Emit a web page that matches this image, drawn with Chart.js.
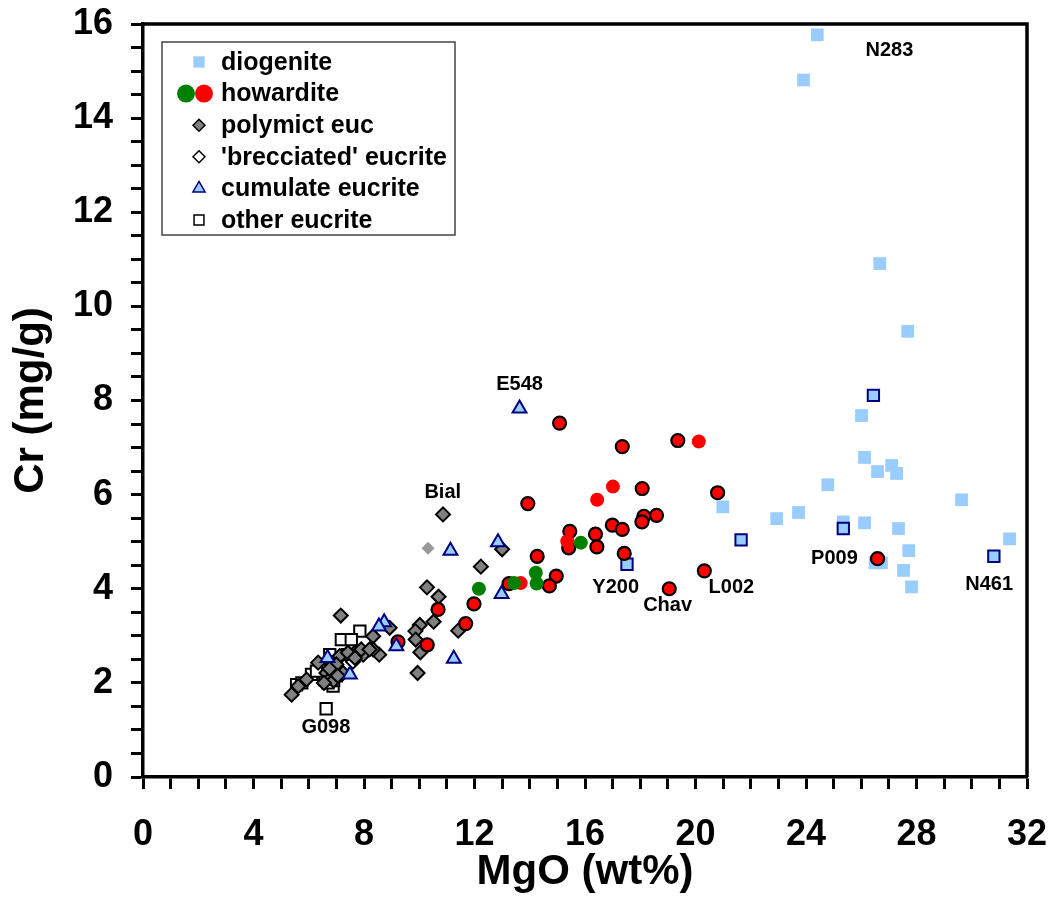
<!DOCTYPE html>
<html>
<head>
<meta charset="utf-8">
<script src="https://cdn.jsdelivr.net/npm/chart.js@4.4.1/dist/chart.umd.min.js"></script>
<style>
  html, body { margin: 0; padding: 0; background: #fff; }
  #wrap { width: 1053px; height: 910px; }
</style>
</head>
<body>
<div id="wrap"><canvas id="crChart" width="1053" height="910"></canvas></div>
<script>
    "use strict";

    // tick labels
    var xTickLabels = ['0', '4', '8', '12', '16', '20', '24', '28', '32'];
    var yTickLabels = ['0', '2', '4', '6', '8', '10', '12', '14', '16'];

    // diogenite
    var diogeniteMgO = [24.41, 23.91, 26.67, 27.68, 26.01, 26.12, 26.59, 27.10, 27.28, 24.79, 29.63, 20.99, 23.73, 22.94, 25.35, 26.12, 27.35, 31.37, 27.72, 26.50, 26.73, 27.53, 27.82];
    var diogeniteCr  = [15.77, 14.81, 10.91, 9.47, 7.68, 6.79, 6.49, 6.62, 6.45, 6.21, 5.89, 5.74, 5.62, 5.49, 5.42, 5.40, 5.28, 5.06, 4.81, 4.55, 4.55, 4.39, 4.04];
    // diogenite, outlined
    var diogOutMgO = [26.44, 25.35, 21.65, 30.80, 17.52];
    var diogOutCr  = [8.11, 5.28, 5.04, 4.69, 4.52];

    // howardite (red, outlined)
    var howRedMgO = [15.08, 17.35, 19.36, 18.07, 20.80, 13.93, 18.13, 18.06, 18.59, 16.99, 17.35, 15.45, 16.38, 15.41, 16.43, 17.42, 14.27, 14.96, 14.71, 19.05, 20.32, 13.25, 11.98, 11.68, 10.68, 10.29, 9.23, 26.59];
    var howRedCr  = [7.52, 7.02, 7.15, 6.13, 6.04, 5.81, 5.54, 5.42, 5.56, 5.35, 5.26, 5.22, 5.16, 4.87, 4.89, 4.75, 4.69, 4.27, 4.06, 4.00, 4.38, 4.11, 3.68, 3.26, 3.56, 2.81, 2.87, 4.64];
    // howardite (red, plain)
    var howRed2MgO = [20.12, 17.01, 16.44, 15.36, 13.67];
    var howRed2Cr  = [7.13, 6.17, 5.89, 5.01, 4.12];
    // howardite (green)
    var howGreenMgO = [15.85, 14.22, 14.25, 12.16, 13.43];
    var howGreenCr  = [4.98, 4.34, 4.11, 4.00, 4.12];

    // polymict eucrite
    var polyMgO = [10.86, 13.00, 12.23, 10.28, 10.70, 10.52, 11.41, 10.02, 9.86, 9.87, 10.04, 9.94, 8.93, 7.16, 8.33, 8.55, 8.33, 7.97, 7.67, 5.38, 5.62, 5.92, 6.34, 7.12, 7.42, 7.90, 8.20, 7.24, 7.67, 7.00, 6.64, 6.80, 6.90, 7.05, 6.75, 6.55];
    var polyCr  = [5.58, 4.84, 4.47, 4.03, 3.83, 3.30, 3.11, 3.23, 3.10, 2.92, 2.65, 2.21, 3.17, 3.43, 2.99, 2.60, 2.71, 2.60, 2.64, 1.75, 1.93, 2.07, 2.43, 2.57, 2.64, 2.71, 2.71, 2.21, 2.53, 2.39, 2.21, 2.10, 2.05, 2.15, 2.30, 2.00];
    var polyLightMgO = [10.32];
    var polyLightCr  = [4.86];

    // 'brecciated' eucrite
    var breccMgO = [7.30, 7.60, 6.95];
    var breccCr  = [2.35, 2.45, 2.25];

    // cumulate eucrite
    var cumMgO = [13.63, 11.13, 12.85, 12.98, 11.25, 8.73, 8.54, 9.17, 6.68, 7.49];
    var cumCr  = [7.83, 4.81, 4.99, 3.89, 2.51, 3.29, 3.20, 2.78, 2.53, 2.18];

    // other eucrite
    var otherMgO = [7.85, 7.18, 7.54, 6.76, 6.46, 6.10, 5.56, 6.88, 6.58, 6.28, 6.63, 6.80, 7.00, 7.10, 6.90, 7.40, 5.75, 6.70];
    var otherCr  = [3.10, 2.92, 2.92, 2.60, 2.39, 2.18, 1.96, 1.93, 2.07, 2.25, 1.45, 2.30, 2.15, 2.45, 2.05, 2.60, 2.00, 2.00];

    // sample labels
    var sampleNames = ['N283', 'E548', 'Bial', 'Y200', 'Chav', 'L002', 'P009', 'N461', 'G098'];
    var sampleMgO   = [27.02, 13.63, 10.85, 17.11, 18.99, 21.30, 25.03, 30.63, 6.62];
    var sampleCr    = [15.43, 8.35, 6.05, 4.03, 3.64, 4.03, 4.64, 4.09, 1.05];

    var FONT = "'Liberation Sans', Arial, sans-serif";

    function pts(xs, ys) {
        return xs.map(function (x, i) { return {x: x, y: ys[i]}; });
    }

    function ds(label, xs, ys, style, order) {
        return Object.assign({
            label: label,
            data: pts(xs, ys),
            order: order,
            pointHoverRadius: 0
        }, style);
    }

    var frameAndLabels = {
        id: 'frameAndLabels',
        afterDatasetsDraw: function (chart) {
            var ctx = chart.ctx;
            var a = chart.chartArea;
            var xs = chart.scales.x, ys = chart.scales.y;
            ctx.save();
            ctx.strokeStyle = '#000';
            ctx.lineWidth = 3.5;
            ctx.beginPath();
            ctx.moveTo(a.left, a.top);
            ctx.lineTo(a.right, a.top);
            ctx.lineTo(a.right, a.bottom);
            ctx.stroke();

            ctx.fillStyle = '#000';
            ctx.font = 'bold 20px ' + FONT;
            ctx.textAlign = 'center';
            ctx.textBaseline = 'middle';
            sampleNames.forEach(function (n, i) {
                ctx.fillText(n, xs.getPixelForValue(sampleMgO[i]), ys.getPixelForValue(sampleCr[i]));
            });

            // legend box
            var bx = 162, by = 42, bw = 293, bh = 193;
            ctx.fillStyle = '#fff';
            ctx.fillRect(bx, by, bw, bh);
            ctx.strokeStyle = '#444';
            ctx.lineWidth = 1.5;
            ctx.strokeRect(bx, by, bw, bh);

            var rows = [
                {text: 'diogenite', marks: [[0, 199]]},
                {text: 'howardite', marks: [[2, 186], [1, 204]]},
                {text: 'polymict euc', marks: [[3, 199]]},
                {text: "'brecciated' eucrite", marks: [[4, 199]]},
                {text: 'cumulate eucrite', marks: [[5, 199]]},
                {text: 'other eucrite', marks: [[6, 199]]}
            ];
            var legendStyles = [
                {pointStyle: 'rect', radius: 8, borderWidth: 0, fill: '#99CCFF', stroke: '#99CCFF'},
                {pointStyle: 'circle', radius: 9, borderWidth: 0, fill: '#FF0000', stroke: '#FF0000'},
                {pointStyle: 'circle', radius: 9, borderWidth: 0, fill: '#008000', stroke: '#008000'},
                {pointStyle: 'rectRot', radius: 6, borderWidth: 1.5, fill: '#808080', stroke: '#000'},
                {pointStyle: 'rectRot', radius: 6, borderWidth: 1.5, fill: '#fff', stroke: '#000'},
                {pointStyle: 'triangle', radius: 7, borderWidth: 1.5, fill: '#99CCFF', stroke: '#000080'},
                {pointStyle: 'rect', radius: 7, borderWidth: 1.5, fill: '#fff', stroke: '#000'}
            ];
            ctx.font = 'bold 25px ' + FONT;
            ctx.textAlign = 'left';
            rows.forEach(function (r, i) {
                var y = 62 + i * 31.6;
                r.marks.forEach(function (m) {
                    var s = legendStyles[m[0]];
                    ctx.fillStyle = s.fill;
                    ctx.strokeStyle = s.stroke;
                    ctx.lineWidth = s.borderWidth;
                    Chart.helpers.drawPoint(ctx, {pointStyle: s.pointStyle, radius: s.radius, borderWidth: s.borderWidth, rotation: 0}, m[1], y);
                });
                ctx.fillStyle = '#000';
                ctx.fillText(r.text, 221, y + 1);
            });
            ctx.restore();
        }
    };

    function noOverflow(scale) {
        scale.paddingTop = 0;
        scale.paddingRight = 0;
        scale.paddingLeft = 0;
        scale.paddingBottom = 0;
    }

    var ctx = document.getElementById('crChart');
    var myChart = new Chart(ctx, {
        type: 'scatter',
        data: {
            datasets: [
                ds('diogenite', diogeniteMgO, diogeniteCr,
                    {pointStyle: 'rect', pointRadius: 9, borderWidth: 0, backgroundColor: '#99CCFF', borderColor: '#99CCFF'}, 9),
                ds('diogenite outlined', diogOutMgO, diogOutCr,
                    {pointStyle: 'rect', pointRadius: 8, borderWidth: 2, backgroundColor: '#99CCFF', borderColor: '#000080'}, 8),
                ds('other eucrite', otherMgO, otherCr,
                    {pointStyle: 'rect', pointRadius: 8, borderWidth: 2, backgroundColor: '#fff', borderColor: '#000'}, 7),
                ds("'brecciated' eucrite", breccMgO, breccCr,
                    {pointStyle: 'rectRot', pointRadius: 7, borderWidth: 2, backgroundColor: '#fff', borderColor: '#000'}, 6),
                ds('polymict euc', polyMgO, polyCr,
                    {pointStyle: 'rectRot', pointRadius: 7, borderWidth: 2, backgroundColor: '#808080', borderColor: '#000'}, 5),
                ds('polymict euc light', polyLightMgO, polyLightCr,
                    {pointStyle: 'rectRot', pointRadius: 6.5, borderWidth: 0, backgroundColor: '#999999', borderColor: '#999999'}, 5),
                ds('howardite', howRedMgO, howRedCr,
                    {pointStyle: 'circle', pointRadius: 6.5, borderWidth: 2.2, backgroundColor: '#FF0000', borderColor: '#000'}, 4),
                ds('howardite green', howGreenMgO, howGreenCr,
                    {pointStyle: 'circle', pointRadius: 7, borderWidth: 0, backgroundColor: '#008000', borderColor: '#008000'}, 3),
                ds('howardite red', howRed2MgO, howRed2Cr,
                    {pointStyle: 'circle', pointRadius: 7, borderWidth: 0, backgroundColor: '#FF0000', borderColor: '#FF0000'}, 3),
                ds('cumulate eucrite', cumMgO, cumCr,
                    {pointStyle: 'triangle', pointRadius: 8, borderWidth: 2, backgroundColor: '#99CCFF', borderColor: '#000080'}, 2)
            ]
        },
        options: {
            responsive: false,
            animation: false,
            layout: {
                padding: {left: 0, right: 26, top: 24, bottom: 0}
            },
            plugins: {
                legend: {display: false},
                tooltip: {enabled: false}
            },
            scales: {
                x: {
                    type: 'linear',
                    min: 0,
                    max: 32,
                    afterFit: function (scale) { scale.height = 133; noOverflow(scale); },
                    border: {color: '#000', width: 3.5},
                    grid: {drawOnChartArea: false, color: '#000', tickLength: 12, tickWidth: 3},
                    ticks: {
                        stepSize: 1,
                        autoSkip: false,
                        maxRotation: 0,
                        color: '#000',
                        padding: 24,
                        font: {family: FONT, size: 36, weight: 'bold'},
                        callback: function (v) { return v % 4 === 0 ? xTickLabels[v / 4] : ''; }
                    },
                    title: {
                        display: true,
                        text: 'MgO (wt%)',
                        color: '#000',
                        padding: {top: 0, bottom: 12},
                        font: {family: FONT, size: 42, weight: 'bold'}
                    }
                },
                y: {
                    type: 'linear',
                    min: 0,
                    max: 16,
                    afterFit: function (scale) { scale.width = 143; noOverflow(scale); },
                    border: {color: '#000', width: 3.5},
                    grid: {drawOnChartArea: false, color: '#000', tickLength: 12, tickWidth: 3},
                    ticks: {
                        stepSize: 0.5,
                        autoSkip: false,
                        color: '#000',
                        padding: 18,
                        font: {family: FONT, size: 36, weight: 'bold'},
                        callback: function (v) { return v % 2 === 0 ? yTickLabels[v / 2] : ''; }
                    },
                    title: {
                        display: true,
                        text: 'Cr (mg/g)',
                        color: '#000',
                        padding: {top: 6, bottom: 0},
                        font: {family: FONT, size: 42, weight: 'bold'}
                    }
                }
            }
        },
        plugins: [frameAndLabels]
    });
</script>
</body>
</html>
